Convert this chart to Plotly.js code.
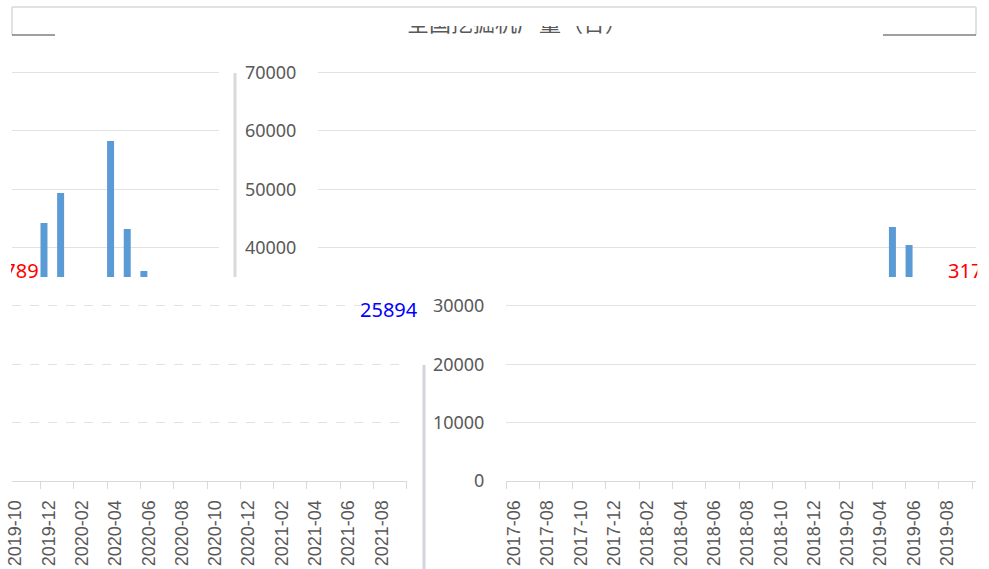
<!DOCTYPE html>
<html>
<head>
<meta charset="utf-8">
<script src="https://cdn.plot.ly/plotly-3.0.1.min.js"></script>
<style>
html,body{margin:0;padding:0;background:#ffffff;}
#chart{width:989px;height:569px;}
</style>
</head>
<body>
<div id="chart"></div>
<script>
// ---------------- data ----------------
const titleText = '全国挖掘机产量（台）';
const months = [
  '2017-06','2017-07','2017-08','2017-09','2017-10','2017-11','2017-12',
  '2018-01','2018-02','2018-03','2018-04','2018-05','2018-06','2018-07','2018-08','2018-09','2018-10','2018-11','2018-12',
  '2019-01','2019-02','2019-03','2019-04','2019-05','2019-06','2019-07','2019-08','2019-09','2019-10','2019-11','2019-12',
  '2020-01','2020-02','2020-03','2020-04','2020-05','2020-06','2020-07','2020-08','2020-09','2020-10','2020-11','2020-12',
  '2021-01','2021-02','2021-03','2021-04','2021-05','2021-06','2021-07','2021-08','2021-09'
];
const production = [
  11500, 9800, 10500, 12200, 11900, 14300, 15600,
  14000, 10000, 30200, 26000, 19500, 15500, 13200, 14100, 16800, 15400, 18400, 19300,
  17000, 14000, 33600, 30500, 22400, 17800, 15600, 17100, 19800, 19900, 23800, 27400,
  13000, 12000, 31700, 43530, 40450, 30100, 25800, 27900, 31789, 33000, 44220, 49360,
  30000, 28000, 58270, 43190, 35990, 30700, 24800, 23900, 25894
];
const yTickVals = [0, 10000, 20000, 30000, 40000, 50000, 60000, 70000];
const yTickText = ['0', '10000', '20000', '30000', '40000', '50000', '60000', '70000'];
const lastYearMonth = '2020-09';
const latestMonth = '2021-09';

// ---------------- geometry of the (shifted) picture ----------------
const W = 989, H = 569;
const X0 = 12, WRAP = 965;          // frame left and wrap width
const PLOT_L = 82, CAT_W = 16.65;   // original plot left, category width
const Y_ZERO = 481, PX_PER_VAL = 58.35 / 10000;
const SHIFT_UP = 224, SHIFT_LO = 412;
const PLOT_R = PLOT_L + months.length * CAT_W;

const fx = p => p / W;
const fy = p => 1 - p / H;
const wrapDisp = (o, s) => X0 + (((o + s) % WRAP) + WRAP) % WRAP;
const origToK = o => (o - PLOT_L) / CAT_W - 0.5;
const kToOrig = k => PLOT_L + (k + 0.5) * CAT_W;
const yToVal = y => (Y_ZERO - y) / PX_PER_VAL;
const valToY = v => Y_ZERO - v * PX_PER_VAL;

const idx = months.map((m, i) => i);
const evenIdx = idx.filter(i => i % 2 === 0);
const bounds = evenIdx.map(i => i - 0.5).concat([months.length - 0.5]);

// tiles
const UP_TOP = 40, UP_BOT = 277, LO_TOP = 278, LO_BOT = 481;
const upR = {l: wrapDisp(PLOT_L, SHIFT_UP), r: 976};
upR.k0 = -0.5; upR.k1 = origToK(upR.r - X0 - SHIFT_UP);
const upL = {l: X0, r: wrapDisp(PLOT_R, SHIFT_UP)};
upL.k0 = origToK(WRAP - SHIFT_UP); upL.k1 = months.length - 0.5;
const loR = {l: wrapDisp(PLOT_L, SHIFT_LO), r: 976};
loR.k0 = -0.5; loR.k1 = origToK(loR.r - X0 - SHIFT_LO);
const loL = {l: X0, r: wrapDisp(PLOT_R, SHIFT_LO)};
loL.k0 = origToK(WRAP - SHIFT_LO); loL.k1 = months.length - 0.5;

const GRID = '#e2e2e2', AXLINE = '#d9d9d9', LABEL = '#595959';
const BAR = '#5B9BD5';

function xAxis(t, lower, anchor) {
  const a = {
    domain: [fx(t.l), fx(t.r)], range: [t.k0, t.k1], type: 'linear',
    anchor: anchor, showgrid: false, zeroline: false, fixedrange: true
  };
  if (lower) {
    Object.assign(a, {
      showline: true, linecolor: AXLINE, linewidth: 1,
      tickmode: 'array', tickvals: evenIdx, ticktext: evenIdx.map(i => months[i]),
      tickangle: -90, ticks: 'outside', ticklen: 11, tickcolor: 'rgba(0,0,0,0)',
      tickfont: {family: 'Liberation Sans, Arial, sans-serif', size: 18, color: LABEL},
      minor: {tickmode: 'array', tickvals: bounds, ticks: 'outside', ticklen: 7,
              tickcolor: AXLINE, tickwidth: 1, showgrid: false}
    });
  } else {
    Object.assign(a, {showline: false, showticklabels: false, ticks: ''});
  }
  return a;
}
function yAxis(top, bot, range, labels, dash, anchor) {
  return {
    domain: [fy(bot), fy(top)], range: range, anchor: anchor,
    tickmode: 'array', tickvals: yTickVals, ticktext: yTickText,
    showgrid: true, gridcolor: GRID, gridwidth: 1, griddash: dash,
    zeroline: false, showline: false, fixedrange: true,
    showticklabels: labels,
    ticks: labels ? 'outside' : '', ticklen: 17, tickcolor: 'rgba(0,0,0,0)',
    tickfont: {family: 'Noto Sans, Open Sans, sans-serif', size: 18, color: LABEL}
  };
}

const upRange = [yToVal(UP_BOT), yToVal(UP_TOP)];
const loRange = [0, yToVal(LO_TOP)];

const barTrace = (xa, ya) => ({
  type: 'bar', x: idx, y: production, xaxis: xa, yaxis: ya,
  marker: {color: BAR, line: {width: 0}}, hoverinfo: 'skip', showlegend: false
});

const data = [barTrace('x', 'y'), barTrace('x2', 'y2')];
// lower tiles hold only axes and grid, as in the picture
data.push({type: 'scatter', x: [], y: [], xaxis: 'x3', yaxis: 'y3', showlegend: false});
data.push({type: 'scatter', x: [], y: [], xaxis: 'x4', yaxis: 'y4', showlegend: false});

// labels
const iLY = months.indexOf(lastYearMonth), iLT = months.indexOf(latestMonth);
const lyText = String(production[iLY]);
const ltText = String(production[iLT]);
const lyCenter = X0 + SHIFT_UP + kToOrig(iLY);       // unwrapped, upper band
const LABEL_HALF = 29;
const lyY = valToY(production[iLY]) - 25;
const ltCenter = wrapDisp(kToOrig(iLT), SHIFT_LO) - 9;
const ltY = valToY(production[iLT]) - 20;

const annotations = [
  {xref: 'paper', yref: 'paper', x: fx(517), y: fy(38), xanchor: 'center', yanchor: 'bottom',
   text: titleText, showarrow: false, height: 11, valign: 'bottom', borderpad: 0,
   font: {family: 'Noto Sans CJK SC, sans-serif', size: 22, color: '#595959'}},
  {xref: 'paper', yref: 'paper', x: fx(lyCenter - LABEL_HALF), y: fy(lyY), xanchor: 'left', yanchor: 'middle',
   text: lyText, showarrow: false, width: 976 - (lyCenter - LABEL_HALF), align: 'left', borderpad: 0,
   font: {family: 'Noto Sans, sans-serif', size: 20, color: '#ff0000'}},
  {xref: 'paper', yref: 'paper', x: fx(lyCenter - WRAP + LABEL_HALF), y: fy(lyY), xanchor: 'right', yanchor: 'middle',
   text: lyText, showarrow: false, width: (lyCenter - WRAP + LABEL_HALF) - X0, align: 'right', borderpad: 0,
   font: {family: 'Noto Sans, sans-serif', size: 20, color: '#ff0000'}},
  {xref: 'paper', yref: 'paper', x: fx(ltCenter), y: fy(ltY), xanchor: 'center', yanchor: 'middle',
   text: ltText, showarrow: false,
   font: {family: 'Noto Sans, sans-serif', size: 20, color: '#0000ff'}}
];

const line = (x0, y0, x1, y1, color, w) => ({
  type: 'line', xref: 'paper', yref: 'paper', x0: fx(x0), y0: fy(y0), x1: fx(x1), y1: fy(y1),
  line: {color: color, width: w}, layer: 'above'
});
const shapes = [
  line(12, 7, 976, 7, '#d9d9d9', 1.5),
  line(12, 7, 12, 35, '#d9d9d9', 1.5),
  line(976, 7, 976, 35, '#d9d9d9', 1.5),
  line(12, 35, 55, 35, '#7f7f7f', 1.5),
  line(883, 35, 976, 35, '#7f7f7f', 1.5),
  line(235, 73, 235, 277, '#d9d9d9', 3),
  line(424, 365, 424, 569, '#d3d3de', 3)
];

const layout = {
  width: W, height: H, autosize: false,
  margin: {l: 0, r: 0, t: 0, b: 0},
  paper_bgcolor: '#ffffff', plot_bgcolor: 'rgba(0,0,0,0)',
  font: {family: 'Liberation Sans, Arial, sans-serif', color: LABEL},
  showlegend: false, bargap: 0.58,
  xaxis: xAxis(upR, false, 'y'),
  yaxis: yAxis(UP_TOP, UP_BOT, upRange, true, 'solid', 'x'),
  xaxis2: xAxis(upL, false, 'y2'),
  yaxis2: yAxis(UP_TOP, UP_BOT, upRange, false, 'solid', 'x2'),
  xaxis3: xAxis(loR, true, 'y3'),
  yaxis3: yAxis(LO_TOP, LO_BOT, loRange, true, 'solid', 'x3'),
  xaxis4: xAxis(loL, true, 'y4'),
  yaxis4: yAxis(LO_TOP, LO_BOT, loRange, false, 'dash', 'x4'),
  annotations: annotations,
  shapes: shapes
};

Plotly.newPlot('chart', data, layout, {staticPlot: true, displayModeBar: false});
</script>
</body>
</html>
